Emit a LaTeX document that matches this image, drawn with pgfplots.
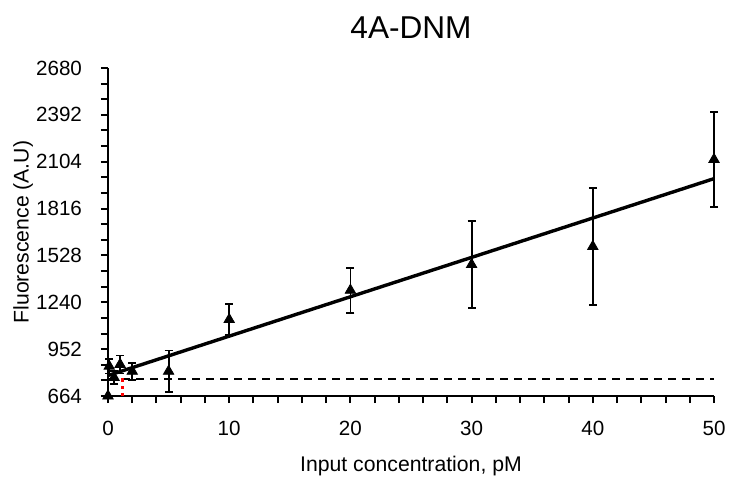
\documentclass[border=0pt]{standalone}
\usepackage{pgfplots}
\pgfplotsset{compat=1.18}
\usepackage{pgfplotstable}
\usepackage{fontspec}
\setmainfont{Liberation Sans}

% x, mean, error (symmetric)
\pgfplotstableread{
x    y     e
0    664   0
0.1  847   45
0.5  778   40
1    858   55
2    816   52
5    816   128
10   1134  95
20   1314  138
30   1472  269
40   1583  359
50   2118  292
}\fluo

\begin{document}
\begin{tikzpicture}
\begin{axis}[
 scale only axis,width=303pt,height=164pt,
 xmin=0,xmax=50,ymin=664,ymax=2680,
 xtick={0,10,...,50},ytick={664,952,1240,1528,1816,2104,2392,2680},
 minor x tick num=4,minor y tick num=2,
 axis lines=left,axis line style={-,line width=1pt},
 tick align=outside,major tick length=3.5pt,minor tick length=3.5pt,
 every tick/.style={black,line width=1pt},
 tick label style={font=\fontsize{10.3}{12}\selectfont},
 /pgf/number format/assume math mode=true,
 /pgf/number format/1000 sep={},
 xticklabel style={yshift=-5.5pt},yticklabel style={xshift=-6pt},
 xlabel={Input concentration, pM},ylabel={Fluorescence (A.U)},
 label style={font=\fontsize{10.6}{12}\selectfont},
 xlabel style={at={(axis description cs:0.5,-0.213)},anchor=center},
 ylabel style={at={(axis description cs:-0.14,0.5)},anchor=center},
 title={4A-DNM},
 title style={font=\fontsize{15.8}{17}\selectfont,at={(axis description cs:0.5,1.086)},anchor=center},
 clip=false]
\addplot[black,line width=1pt,dash pattern=on 4pt off 3pt] coordinates {(0,770) (50,770)};
\addplot[red,line width=1.6pt,dotted] coordinates {(1.2,664) (1.2,778)};
\addplot[black,line width=1.7pt] coordinates {(0,790) (50,2000)};
\addplot[black,only marks,mark=triangle*,mark size=3pt,
 error bars/.cd,y dir=both,y explicit,
 error bar style={line width=0.9pt},
 error mark options={rotate=90,mark size=2pt,line width=0.9pt}]
 table[x=x,y=y,y error=e] {\fluo};
\end{axis}
\pgfresetboundingbox
\path[use as bounding box] ([xshift=-54pt,yshift=-41.25pt]current axis.south west)
 rectangle ([xshift=7.5pt,yshift=34pt]current axis.north east);
\end{tikzpicture}
\end{document}
